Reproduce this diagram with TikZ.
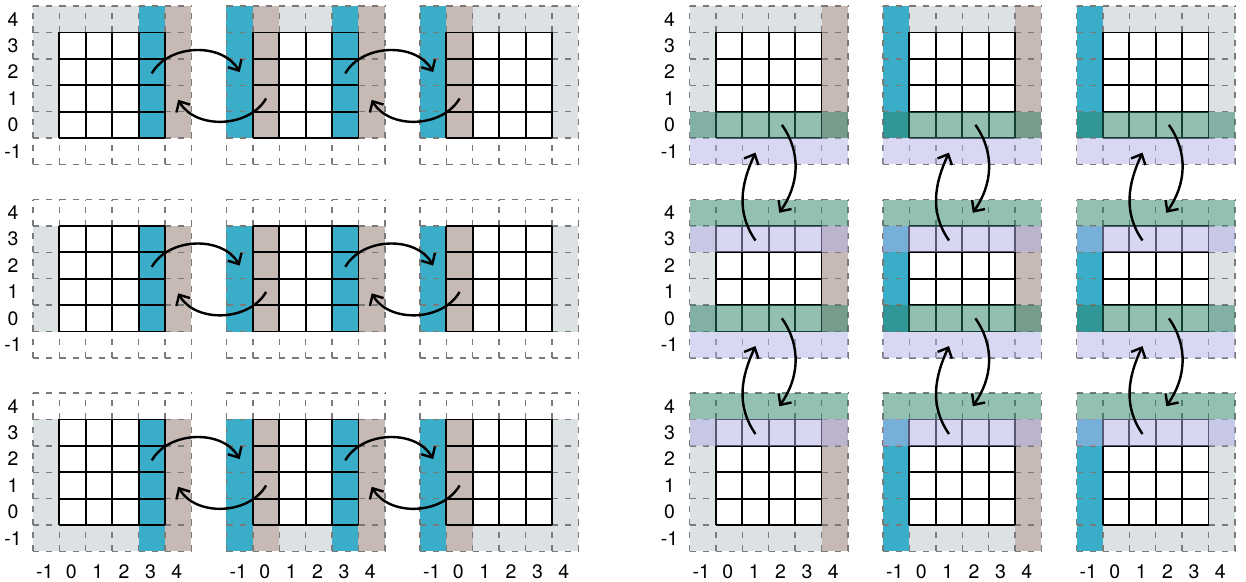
\documentclass[tikz,border=0pt]{standalone}
\usepackage{fontspec}
\setmainfont{TeX Gyre Heros}
\usetikzlibrary{arrows.meta}

\definecolor{halogray}{HTML}{DCE1E3}
\definecolor{sendblue}{HTML}{3AADC9}
\definecolor{recvtaupe}{HTML}{C7B9B3}
\definecolor{rowgreen}{HTML}{298167}
\definecolor{rowlav}{HTML}{B3B1E7}

\tikzstyle{haloline} = [draw=black!52, line width=0.75pt, dash pattern=on 3.3pt off 3.81pt]
\tikzstyle{blockline} = [draw=black, line width=1pt]
\tikzstyle{trade} = [line width=1.3pt, -{Straight Barb[length=4.5pt,width=8.5pt]}]
\tikzstyle{rowband} = [fill opacity=0.5]
\tikzstyle{lbl} = [font=\fontsize{10.5}{12}\selectfont, inner sep=0pt]

% one 4x4 block with its halo: x, y, lowest row, top row, coloured columns
\newcommand{\halogrid}[5]{
	\begin{scope}[shift={(#1,#2)}]
		\fill[halogray] (-1,#3) rectangle (5,#4);
		\fill[white] (0,0) rectangle (4,4);
		\foreach \c/\col in {#5} {
			\fill[\col] (\c,#3) rectangle (\c+1,#4);
		}
		\draw[haloline] (-1,-1) grid[step=1] (5,5);
		\draw[blockline] (0,0) grid[step=1] (4,4);
	\end{scope}
}

\begin{document}
\begin{tikzpicture}[x=0.5cm, y=0.5cm]
\useasboundingbox (-2.25,-16.78) rectangle (44.95,5.23);

% left: exchange along x
\foreach \j/\lo/\hi in {0/0/5, 1/0/4, 2/-1/4} {
	\halogrid{0}{-7.33*\j}{\lo}{\hi}{3/sendblue, 4/recvtaupe}
	\halogrid{7.33}{-7.33*\j}{\lo}{\hi}{-1/sendblue, 0/recvtaupe, 3/sendblue, 4/recvtaupe}
	\halogrid{14.66}{-7.33*\j}{\lo}{\hi}{-1/sendblue, 0/recvtaupe}
}

% right: exchange along y
\foreach \j/\lo/\hi in {0/0/5, 1/0/4, 2/-1/4} {
	\halogrid{24.87}{-7.33*\j}{\lo}{\hi}{4/recvtaupe}
	\halogrid{32.2}{-7.33*\j}{\lo}{\hi}{-1/sendblue, 4/recvtaupe}
	\halogrid{39.53}{-7.33*\j}{\lo}{\hi}{-1/sendblue}
}
\foreach \j/\rows in {0/{0/rowgreen, -1/rowlav},
		1/{4/rowgreen, 3/rowlav, 0/rowgreen, -1/rowlav},
		2/{4/rowgreen, 3/rowlav}} {
	\foreach \i in {0,1,2} {
		\foreach \r/\col in \rows {
			\fill[rowband, \col] (24.87+7.33*\i-1,-7.33*\j+\r) rectangle ++(6,1);
		}
	}
}

% arrows
\foreach \j in {0,1,2} {
	\foreach \i in {0,1} {
		\coordinate (xsend\i\j) at (7.33*\i+3.5,-7.33*\j+2.45);
		\coordinate (xhalo\i\j) at (7.33*\i+6.83,-7.33*\j+2.5);
		\coordinate (xback\i\j) at (7.33*\i+7.83,-7.33*\j+1.5);
		\coordinate (xfill\i\j) at (7.33*\i+4.5,-7.33*\j+1.45);
		\draw[trade] (xsend\i\j) to[out=60,in=120] (xhalo\i\j);
		\draw[trade] (xback\i\j) to[out=-120,in=-60] (xfill\i\j);
	}
}
\foreach \i in {0,1,2} {
	\foreach \j in {0,1} {
		\coordinate (ysend\i\j) at (24.87+7.33*\i+2.5,-7.33*\j+0.5);
		\coordinate (yhalo\i\j) at (24.87+7.33*\i+2.4,-7.33*\j-2.83);
		\coordinate (yback\i\j) at (24.87+7.33*\i+1.5,-7.33*\j-3.88);
		\coordinate (yfill\i\j) at (24.87+7.33*\i+1.5,-7.33*\j-0.55);
		\draw[trade] (ysend\i\j) to[out=-55,in=55] (yhalo\i\j);
		\draw[trade] (yback\i\j) to[out=125,in=-115] (yfill\i\j);
	}
}

% index labels
\foreach \j in {0,1,2} {
	\foreach \r in {-1,...,4} {
		\node[lbl] (rowL\j\r) at (-1.76,-7.33*\j+\r+0.5) {\r};
		\node[lbl] (rowR\j\r) at (23.11,-7.33*\j+\r+0.5) {\r};
	}
}
\foreach \i in {0,1,2} {
	\foreach \c in {-1,...,4} {
		\node[lbl] (colL\i\c) at (7.33*\i+\c+0.45,-16.41) {\c};
		\node[lbl] (colR\i\c) at (24.87+7.33*\i+\c+0.45,-16.41) {\c};
	}
}
\end{tikzpicture}
\end{document}
